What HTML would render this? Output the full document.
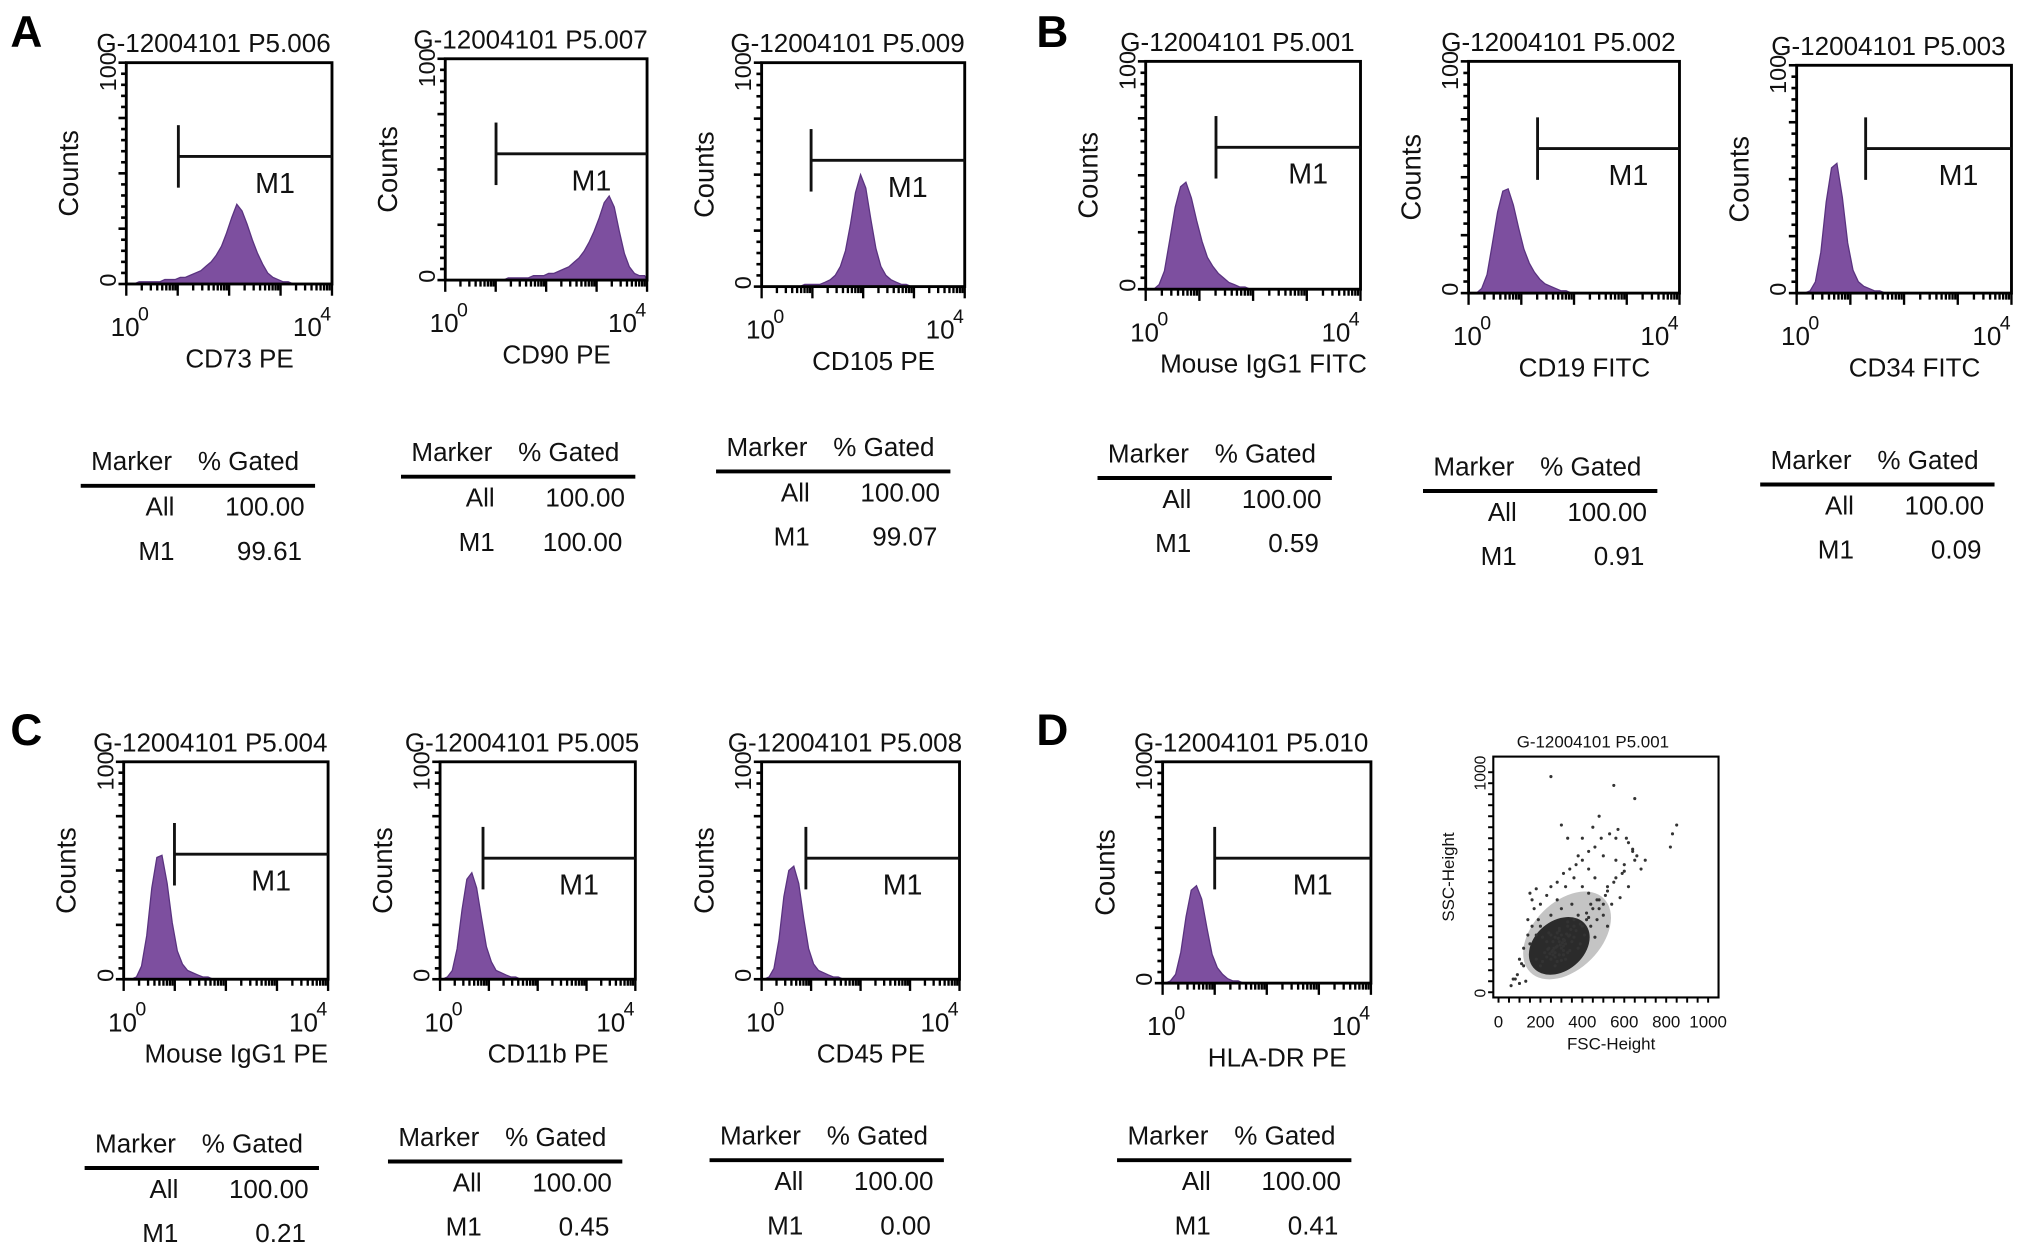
<!DOCTYPE html>
<html><head><meta charset="utf-8"><style>
html,body{margin:0;padding:0;background:#fff;}
svg{display:block;font-family:"Liberation Sans",Arial,sans-serif;}
</style></head><body>
<svg id="fig" width="2031" height="1245" viewBox="0 0 1560 956" xmlns="http://www.w3.org/2000/svg">
<rect width="1560" height="956" fill="#fff"/>
<g font-weight="bold" font-size="34" fill="#000">
<text x="8" y="36">A</text>
<text x="796" y="36">B</text>
<text x="8" y="572">C</text>
<text x="796" y="572">D</text>
</g>
</svg>
<script>
// ---- data: histogram counts (40 log bins over 10^0..10^4, counts 0..100) ----
const histA1=[0,0,1,1,1,1,1,2,2,2,3,3,4,5,6,8,10,13,17,23,30,36,33,27,20,14,9,5,3,2,1,1,0,0,0,0,0,0,0,0];
const histA2=[0,0,0,0,0,0,0,0,0,0,0,0,1,1,1,1,1,2,2,2,3,3,4,5,6,8,10,13,17,22,28,35,38,33,22,12,6,3,2,2];
const histA3=[0,0,0,0,0,0,0,0,1,1,1,1,2,3,5,9,16,28,42,50,44,30,17,9,5,3,2,1,1,0,0,0,0,0,0,0,0,0,0,0];
const histB1=[0,0,2,8,22,36,45,47,40,30,21,14,10,7,5,3,2,1,1,0,0,0,0,0,0,0,0,0,0,0,0,0,0,0,0,0,0,0,0,0];
const histB2=[0,0,2,8,21,35,44,45,38,28,19,13,9,6,4,3,2,1,1,0,0,0,0,0,0,0,0,0,0,0,0,0,0,0,0,0,0,0,0,0];
const histB3=[0,0,1,5,18,40,55,57,42,22,10,5,3,2,1,1,0,0,0,0,0,0,0,0,0,0,0,0,0,0,0,0,0,0,0,0,0,0,0,0];
const histC1=[0,0,1,6,20,42,56,57,44,26,13,7,4,3,2,1,1,0,0,0,0,0,0,0,0,0,0,0,0,0,0,0,0,0,0,0,0,0,0,0];
const histC2=[0,1,4,14,32,46,49,42,28,15,8,4,3,2,1,1,0,0,0,0,0,0,0,0,0,0,0,0,0,0,0,0,0,0,0,0,0,0,0,0];
const histC3=[0,1,5,18,38,50,52,44,28,14,7,4,3,2,1,1,0,0,0,0,0,0,0,0,0,0,0,0,0,0,0,0,0,0,0,0,0,0,0,0];
const histD1=[0,1,4,14,30,42,44,38,25,13,7,4,2,1,1,0,0,0,0,0,0,0,0,0,0,0,0,0,0,0,0,0,0,0,0,0,0,0,0,0];
// ---- data: gated percentages ----
const titles=["G-12004101 P5.006","G-12004101 P5.007","G-12004101 P5.009","G-12004101 P5.001","G-12004101 P5.002","G-12004101 P5.003","G-12004101 P5.004","G-12004101 P5.005","G-12004101 P5.008","G-12004101 P5.010"];
const axisLabels=["CD73 PE","CD90 PE","CD105 PE","Mouse IgG1 FITC","CD19 FITC","CD34 FITC","Mouse IgG1 PE","CD11b PE","CD45 PE","HLA-DR PE"];
const allGated=["100.00","100.00","100.00","100.00","100.00","100.00","100.00","100.00","100.00","100.00"];
const m1Gated=["99.61","100.00","99.07","0.59","0.91","0.09","0.21","0.45","0.00","0.41"];
const hists=[histA1,histA2,histA3,histB1,histB2,histB3,histC1,histC2,histC3,histD1];
// ---- data: scatter (FSC-Height, SSC-Height) ----
const scatterFSC=[250,270,300,320,280,260,310,340,290,230,350,370,330,300,260,240,220,280,310,360,400,420,380,450,480,500,430,520,550,600,620,580,650,680,460,400,350,300,250,200,180,150,120,100,80,100,130,60,200,210,180,270,330,390,410,440,470,500,520,460,540,560,500,430,380,330,400,300,450,480,250,550,650,850,830,820,700,620,560,180,150,140,200,280,320,360,240,290,330,360,270,250,230,320,340,380,260,290,310,280,265,295,315,335,245,275,305,285,255,325,345,235,300,310,270,290,420,440,470,520,560,600,640,660,590,510,480,430,390,360,210,190,170,160,230,250,280,310,340,370,400,430,460,490,530,570,610,640,120,90,70,110,140,160];
const scatterSSC=[150,180,200,220,210,190,240,260,170,160,230,280,300,260,230,200,180,140,170,250,300,330,350,380,420,400,450,480,500,550,480,430,600,560,520,480,400,380,350,300,260,220,200,150,60,40,50,30,120,140,150,120,180,220,260,300,330,350,300,250,400,600,620,560,620,700,700,760,750,800,980,940,880,760,720,660,600,680,700,470,450,330,400,420,480,520,270,290,320,300,250,260,230,150,190,200,170,230,210,270,200,215,235,255,175,205,225,245,185,265,285,195,145,190,160,280,360,400,420,460,520,580,640,620,540,440,380,340,310,330,250,330,380,420,440,480,500,540,560,580,600,640,660,700,720,740,700,650,120,80,60,130,260,300];

const svg=document.getElementById('fig');
const NS='http://www.w3.org/2000/svg';
function mk(tag,attrs,parent){const e=document.createElementNS(NS,tag);for(const k in attrs)e.setAttribute(k,attrs[k]);(parent||svg).appendChild(e);return e;}
function txt(x,y,s,size,parent,extra){const t=mk('text',Object.assign({x:x,y:y,'font-size':size,fill:'#111'},extra||{}),parent);t.textContent=s;return t;}

const L=[
 {x0:97,x1:255,y0:48,y1:218,gx:137,gy:120,tby:355,tx:62},
 {x0:342,x1:497,y0:45,y1:215,gx:381,gy:118,tby:348,tx:308},
 {x0:585,x1:741,y0:48,y1:220,gx:623,gy:123,tby:344,tx:550},
 {x0:880,x1:1045,y0:47,y1:222,gx:934,gy:113,tby:349,tx:843},
 {x0:1128,x1:1290,y0:47,y1:225,gx:1181,gy:114,tby:359,tx:1093},
 {x0:1380,x1:1545,y0:50,y1:225,gx:1433,gy:114,tby:354,tx:1352},
 {x0:95,x1:252,y0:585,y1:752,gx:134,gy:656,tby:879,tx:65},
 {x0:338,x1:488,y0:585,y1:752,gx:371,gy:659,tby:874,tx:298},
 {x0:585,x1:737,y0:585,y1:752,gx:619,gy:659,tby:873,tx:545},
 {x0:893,x1:1053,y0:585,y1:755,gx:933,gy:659,tby:873,tx:858}
];

hists.forEach((h,i)=>{
  const p=L[i];
  const g=mk('g',{});
  
  
  const w=p.x1-p.x0,hh=p.y1-p.y0;
  const xs=d=>p.x0+d/4*w;
  const ys=c=>p.y1-c/100*hh;
  let d='M'+xs(0)+','+ys(0);
  h.forEach((c,k)=>{d+=' L'+xs(k*0.1+0.05).toFixed(1)+','+ys(c).toFixed(1);});
  d+=' L'+xs(4)+','+ys(0)+'Z';
  const path=mk('path',{d:d,fill:'#7d4f9f',stroke:'#5a3380','stroke-width':1},g);
  
  
  const box=mk('rect',{x:p.x0,y:p.y0,width:w,height:hh,fill:'none',stroke:'#000','stroke-width':2.2},g);
  
  
  for(let k=0;k<=20;k++){const y=p.y1-k/20*hh;mk('line',{x1:p.x0-(k%5==0?6:4),x2:p.x0,y1:y,y2:y,stroke:'#000','stroke-width':2},g);}
  for(let dec=0;dec<4;dec++){for(let m=1;m<=9;m++){const xv=xs(dec+Math.log10(m));mk('line',{x1:xv,x2:xv,y1:p.y1,y2:p.y1+(m==1?9:5),stroke:'#000','stroke-width':1.8},g);}}
  mk('line',{x1:p.x1,x2:p.x1,y1:p.y1,y2:p.y1+9,stroke:'#000','stroke-width':1.8},g);
  const t=txt((p.x0+p.x1)/2-12,p.y0-8,titles[i],20,g,{'text-anchor':'middle'});
  
  
  const y100=txt(0,0,'100',18,g,{transform:'translate('+(p.x0-8)+','+(p.y0+22)+') rotate(-90)'});
  
  
  const y0=txt(0,0,'0',18,g,{transform:'translate('+(p.x0-8)+','+(p.y1+2)+') rotate(-90)'});
  
  
  const yl=txt(0,0,'Counts',21,g,{'text-anchor':'middle',transform:'translate('+(p.x0-37)+','+((p.y0+p.y1)/2)+') rotate(-90)'});
  
  
  const xa=txt(p.x0-12,p.y1+40,'10',20,g);
  
  
  txt(p.x0+9,p.y1+28,'0',15,g);
  const xb=txt(p.x1-30,p.y1+40,'10',20,g);
  
  
  txt(p.x1-9,p.y1+28,'4',15,g);
  const xl=txt((p.x0+p.x1)/2+8,p.y1+64,axisLabels[i],20,g,{'text-anchor':'middle'});
  
  
  const gate=mk('g',{},g);
  
  
  mk('line',{x1:p.gx,x2:p.gx,y1:p.gy-24,y2:p.gy+24,stroke:'#111','stroke-width':2.2},gate);
  mk('line',{x1:p.gx,x2:p.x1,y1:p.gy,y2:p.gy,stroke:'#111','stroke-width':2.2},gate);
  txt(p.gx+(p.x1-p.gx)*0.5,p.gy+28,'M1',22,gate);
  const tb=mk('g',{},g);
  
  
  txt(p.tx+8,p.tby+6,'Marker',20,tb);
  txt(p.tx+90,p.tby+6,'% Gated',20,tb);
  mk('line',{x1:p.tx,x2:p.tx+180,y1:p.tby+18,y2:p.tby+18,stroke:'#000','stroke-width':3},tb);
  txt(p.tx+72,p.tby+41,'All',20,tb,{'text-anchor':'end'});
  txt(p.tx+172,p.tby+41,allGated[i],20,tb,{'text-anchor':'end'});
  txt(p.tx+72,p.tby+75,'M1',20,tb,{'text-anchor':'end'});
  txt(p.tx+170,p.tby+75,m1Gated[i],20,tb,{'text-anchor':'end'});
});

(function(){
  const S={x0:1147,x1:1320,y0:581,y1:766};
  const g=mk('g',{});
  
  
  const xs=v=>S.x0+4+v/1000*(S.x1-S.x0-12);
  const ys=v=>S.y1-4-v/1000*(S.y1-S.y0-16);
  const n=scatterFSC.length;
  let mx=0,my=0;for(let k=0;k<n;k++){mx+=scatterFSC[k];my+=scatterSSC[k];}mx/=n;my/=n;
  const cx=xs(mx-70),cy=ys(my-160);
  const halo=mk('ellipse',{cx:cx+6,cy:cy-8,rx:40,ry:26,fill:'#555',opacity:0.35,transform:'rotate(-45 '+(cx+6)+' '+(cy-8)+')'},g);
  
  
  const core=mk('ellipse',{cx:cx,cy:cy,rx:26,ry:19,fill:'#111',opacity:0.85,transform:'rotate(-40 '+cx+' '+cy+')'},g);
  
  
  for(let k=0;k<n;k++){
    const c=mk('circle',{cx:xs(scatterFSC[k]),cy:ys(scatterSSC[k]),r:1.2,fill:'#333'},g);
    
    
  }
  const fr=mk('rect',{x:S.x0,y:S.y0,width:S.x1-S.x0,height:S.y1-S.y0,fill:'none',stroke:'#000','stroke-width':1.6},g);
  
  
  for(let k=0;k<=20;k++){const y=ys(k*50);mk('line',{x1:S.x0-4,x2:S.x0,y1:y,y2:y,stroke:'#000','stroke-width':1.5},g);
    const x=xs(k*50);mk('line',{x1:x,x2:x,y1:S.y1,y2:S.y1+4,stroke:'#000','stroke-width':1.5},g);}
  const xt=['0','200','400','600','800','1000'];
  xt.forEach((s,k)=>{const t=txt(xs(k*200),S.y1+23,s,13,g,{'text-anchor':'middle'});
    
    });
  txt(0,0,'1000',12,g,{transform:'translate('+(S.x0-6)+','+(ys(1000)+14)+') rotate(-90)'});
  txt(0,0,'0',12,g,{transform:'translate('+(S.x0-6)+','+(ys(0)+4)+') rotate(-90)'});
  const xl=txt((S.x0+S.x1)/2+4,S.y1+40,'FSC-Height',13,g,{'text-anchor':'middle'});
  
  
  const yl=txt(0,0,'SSC-Height',13,g,{'text-anchor':'middle',transform:'translate('+(S.x0-30)+','+((S.y0+S.y1)/2)+') rotate(-90)'});
  
  
  const tt=txt(S.x0+18,S.y0-7,'G-12004101 P5.001',13,g);
  
  
})();
</script>
</body></html>
